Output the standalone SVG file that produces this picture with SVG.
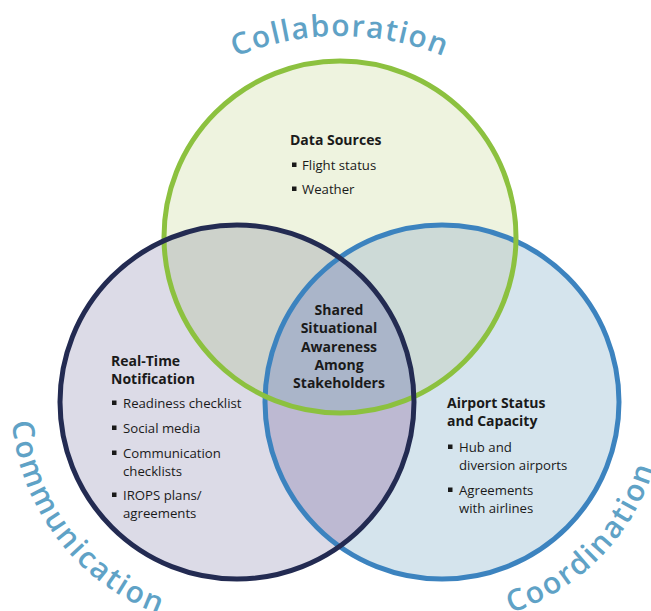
<svg xmlns="http://www.w3.org/2000/svg" width="651" height="611" viewBox="0 0 651 611">
<style>
.h{font-family:"Open Sans","Liberation Sans",sans-serif;font-weight:700;font-size:14px;fill:#1a1a1a}
.t{font-family:"Open Sans","Liberation Sans",sans-serif;font-weight:400;font-size:13.2px;fill:#1a1a1a}
.ttl{font-family:"Open Sans","Liberation Sans",sans-serif;font-weight:600;font-size:30px;fill:#5fa2c6;letter-spacing:2px}
.ring{fill:none;stroke-width:5}
.b{fill:#1a1a1a}
</style>
<defs>
<clipPath id="cG"><circle cx="340" cy="237" r="176"/></clipPath>
<clipPath id="cN"><circle cx="237" cy="402" r="177"/></clipPath>
<path id="arcTop" d="M203.5,72.6 A273,273 0 0 1 476.5,72.6"/>
<path id="arcLeft" d="M11.9,421.7 A226,226 0 0 0 197.8,624.6"/>
<path id="arcRight" d="M510.6,613.1 A222,222 0 0 0 663.2,421.3"/>
</defs>
<rect width="651" height="611" fill="#ffffff"/>
<g id="regions">
<circle cx="340" cy="237" r="176" fill="#eef3df"/>
<circle cx="237" cy="402" r="177" fill="#dcdbe7"/>
<circle cx="442" cy="402" r="177" fill="#d5e4ed"/>
<circle cx="237" cy="402" r="177" fill="#cdd2cb" clip-path="url(#cG)"/>
<circle cx="442" cy="402" r="177" fill="#cddad7" clip-path="url(#cG)"/>
<circle cx="442" cy="402" r="177" fill="#bdb9d2" clip-path="url(#cN)"/>
<g clip-path="url(#cG)"><circle cx="442" cy="402" r="177" fill="#aab5c9" clip-path="url(#cN)"/></g>
</g>
<g id="coordination">
<circle class="ring" cx="442" cy="402" r="177" stroke="#3c83bf"/>
<text class="h" x="447" y="408">Airport Status</text>
<text class="h" x="447" y="426">and Capacity</text>
<rect class="b" x="448" y="444.5" width="4.5" height="4.5"/>
<text class="t" x="459" y="452">Hub and</text>
<text class="t" x="459" y="470">diversion airports</text>
<rect class="b" x="448" y="487.5" width="4.5" height="4.5"/>
<text class="t" x="459" y="495">Agreements</text>
<text class="t" x="459" y="513">with airlines</text>
<text class="ttl"><textPath href="#arcRight">Coordination</textPath></text>
</g>
<g id="collaboration">
<circle class="ring" cx="340" cy="237" r="176" stroke="#8cc13f"/>
<text class="h" x="290" y="145">Data Sources</text>
<rect class="b" x="292" y="162.5" width="4.5" height="4.5"/>
<text class="t" x="302" y="170">Flight status</text>
<rect class="b" x="292" y="186.5" width="4.5" height="4.5"/>
<text class="t" x="302" y="194">Weather</text>
<text class="ttl" text-anchor="middle" style="letter-spacing:1.4px"><textPath href="#arcTop" startOffset="50%">Collaboration</textPath></text>
</g>
<g id="communication">
<circle class="ring" cx="237" cy="402" r="177" stroke="#232b52"/>
<text class="h" x="111" y="366">Real-Time</text>
<text class="h" x="111" y="384">Notification</text>
<rect class="b" x="112" y="400.5" width="4.5" height="4.5"/>
<text class="t" x="123" y="408">Readiness checklist</text>
<rect class="b" x="112" y="425.5" width="4.5" height="4.5"/>
<text class="t" x="123" y="433">Social media</text>
<rect class="b" x="112" y="450.5" width="4.5" height="4.5"/>
<text class="t" x="123" y="458">Communication</text>
<text class="t" x="123" y="476">checklists</text>
<rect class="b" x="112" y="492.5" width="4.5" height="4.5"/>
<text class="t" x="123" y="500">IROPS plans/</text>
<text class="t" x="123" y="518">agreements</text>
<text class="ttl"><textPath href="#arcLeft">Communication</textPath></text>
</g>
<g id="shared">
<text class="h" text-anchor="middle" x="339" y="315">Shared</text>
<text class="h" text-anchor="middle" x="339" y="333">Situational</text>
<text class="h" text-anchor="middle" x="339" y="351.5">Awareness</text>
<text class="h" text-anchor="middle" x="339" y="370">Among</text>
<text class="h" text-anchor="middle" x="339" y="388">Stakeholders</text>
</g>
</svg>
